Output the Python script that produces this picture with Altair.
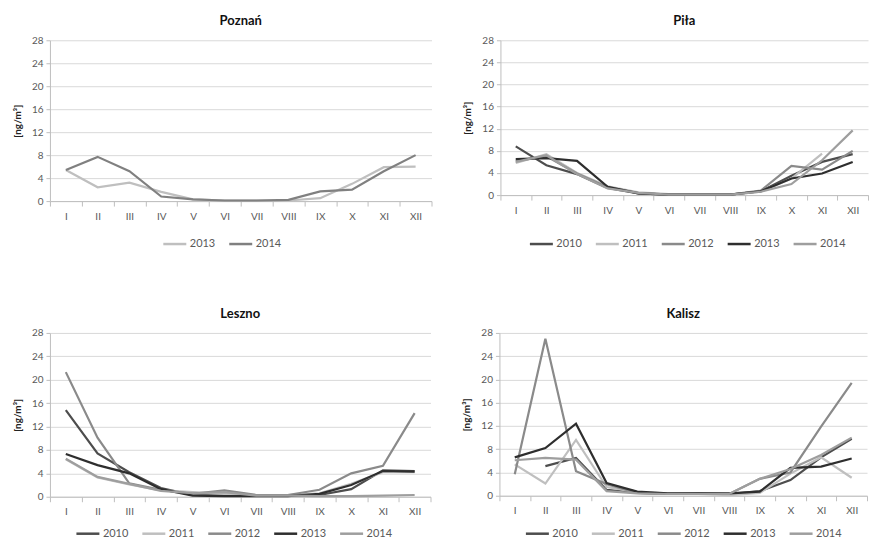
import altair as alt
import pandas as pd

months = ["I", "II", "III", "IV", "V", "VI", "VII", "VIII", "IX", "X", "XI", "XII"]
y_ticks = [0, 4, 8, 12, 16, 20, 24, 28]

poznan_years = ["2013", "2014"]
poznan_2013 = [5.4, 2.4, 3.2, 1.6, 0.3, 0.1, 0.1, 0.1, 0.5, 3.0, 5.9, 6.0]
poznan_2014 = [5.4, 7.7, 5.2, 0.8, 0.3, 0.1, 0.1, 0.2, 1.7, 2.0, 5.2, 8.0]

years5 = ["2010", "2011", "2012", "2013", "2014"]
pila_2010 = [8.8, 5.4, 3.8, 1.3, 0.3, 0.1, 0.1, 0.1, 0.7, 3.5, 6.0, 7.4]
pila_2011 = [5.8, 7.4, 4.0, 1.6, 0.5, 0.2, 0.1, 0.1, 0.6, 3.0, 7.5, None]
pila_2012 = [6.2, 7.0, 3.9, 1.4, 0.4, 0.1, 0.1, 0.1, 0.8, 5.3, 4.6, 8.0]
pila_2013 = [6.5, 6.7, 6.2, 1.5, 0.3, 0.1, 0.1, 0.1, 0.7, 3.0, 3.9, 6.0]
pila_2014 = [6.0, 7.2, 3.8, 1.2, 0.4, 0.1, 0.1, 0.1, 0.6, 2.0, 6.3, 11.7]

leszno_2010 = [14.8, 7.4, 4.2, 1.5, 0.3, 0.2, 0.2, 0.2, 0.3, 1.3, 4.5, 4.4]
leszno_2011 = [6.4, 3.3, 2.1, 1.1, 0.8, 0.5, 0.3, 0.3, 0.6, 2.2, 4.2, 4.2]
leszno_2012 = [21.3, 10.1, 2.3, 1.2, 0.5, 1.1, 0.3, 0.3, 1.2, 4.0, 5.3, 14.3]
leszno_2013 = [7.3, 5.4, 4.0, 1.3, 0.2, 0.1, 0.1, 0.1, 0.5, 2.0, 4.4, 4.3]
leszno_2014 = [6.5, 3.4, 2.2, 1.0, 0.6, 0.8, 0.2, 0.2, 0.1, 0.1, 0.2, 0.3]

kalisz_2010 = [None, 5.1, 6.5, 1.0, 0.5, 0.3, 0.3, 0.3, 0.8, 2.7, 6.6, 9.8]
kalisz_2011 = [5.4, 2.1, 9.6, 1.5, 0.6, 0.4, 0.3, 0.1, 0.5, 3.8, 6.6, 3.1]
kalisz_2012 = [3.7, 27.0, 4.2, 2.0, 0.5, 0.3, 0.4, 0.3, 2.9, 4.0, 11.9, 19.4]
kalisz_2013 = [6.6, 8.2, 12.4, 2.2, 0.7, 0.4, 0.4, 0.4, 0.7, 4.8, 5.0, 6.4]
kalisz_2014 = [6.1, 6.5, 6.2, 0.8, 0.4, 0.3, 0.3, 0.3, 2.9, 4.6, 7.0, 10.0]

colors2 = ["#bfbfbf", "#808080"]
colors5 = ["#4d4d4d", "#bfbfbf", "#8a8a8a", "#2e2e2e", "#9e9e9e"]

FONT = "Lato"


def make_df(years, series):
    rows = []
    for yr, vals in zip(years, series):
        for m, v in zip(months, vals):
            if v is not None:
                rows.append({"month": m, "year": yr, "value": v})
    return pd.DataFrame(rows)


def panel(title, years, series, colors, w, h, lx, ly, toff):
    df = make_df(years, series)
    return alt.Chart(df).mark_line(strokeWidth=2.2).encode(
        x=alt.X("month:N", sort=months, bandPosition=0.5,
                scale=alt.Scale(type="band", domain=months, paddingInner=0, paddingOuter=0),
                axis=alt.Axis(title=None, tickBand="extent", grid=False, labelAngle=0,
                              labelFontSize=10, labelColor="#595959", labelFont=FONT,
                              labelPadding=5, tickSize=5, tickColor="#bfbfbf",
                              domainColor="#bfbfbf")),
        y=alt.Y("value:Q", scale=alt.Scale(domain=[0, 28], nice=False),
                axis=alt.Axis(values=y_ticks, title="[ng/m³]", titleFont=FONT,
                              titleFontSize=10, titleFontWeight="bold", titleColor="#222",
                              titlePadding=9, labelFontSize=10, labelColor="#595959",
                              labelFont=FONT, labelPadding=3, tickSize=4,
                              tickColor="#bfbfbf", domainColor="#bfbfbf",
                              gridColor="#d9d9d9")),
        color=alt.Color("year:N", sort=years,
                        scale=alt.Scale(domain=years, range=colors),
                        legend=alt.Legend(title=None, orient="none", legendX=lx, legendY=ly,
                                          direction="horizontal", symbolType="stroke",
                                          symbolSize=529, symbolStrokeWidth=2.5,
                                          labelFontSize=11, labelColor="#595959",
                                          labelFont=FONT, labelOffset=2, columnPadding=8)),
    ).properties(
        width=w, height=h,
        title=alt.TitleParams(title, fontSize=13, fontWeight="bold", font=FONT,
                              color="#111", offset=toff),
    )


p1 = panel("Poznań", poznan_years, [poznan_2013, poznan_2014], colors2,
           382, 161, 112, 191, 7)
p2 = panel("Piła", years5, [pila_2010, pila_2011, pila_2012, pila_2013, pila_2014],
           colors5, 368, 155, 28, 191, 7)
p3 = panel("Leszno", years5, [leszno_2010, leszno_2011, leszno_2012, leszno_2013, leszno_2014],
           colors5, 381, 164, 25, 188, 7)
p4 = panel("Kalisz", years5, [kalisz_2010, kalisz_2011, kalisz_2012, kalisz_2013, kalisz_2014],
           colors5, 368, 163, 25, 188, 7)

top = alt.hconcat(p1, p2, spacing=30).resolve_scale(color="independent")
bottom = alt.hconcat(p3, p4, spacing=30).resolve_scale(color="independent")
chart = alt.vconcat(top, bottom, spacing=59).resolve_scale(color="independent").properties(
    padding={"left": 4, "top": 7, "right": 0, "bottom": 0}
).configure_view(stroke=None)

chart.save("out.html", embed_options={"renderer": "svg", "actions": False})
